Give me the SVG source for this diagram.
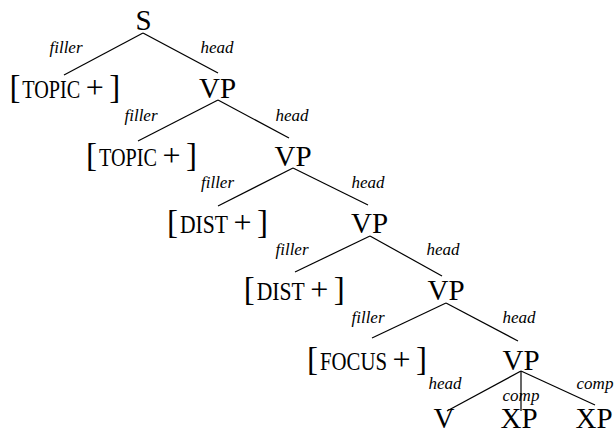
<svg xmlns="http://www.w3.org/2000/svg" width="614" height="436" viewBox="0 0 614 436">
<style>
text{font-family:"Liberation Serif","Times New Roman",serif;fill:#000}
.n{font-size:29px;text-anchor:middle}
.b{font-size:33px}
.p{font-size:32px}
.w{font-size:25px}
.l{font-size:17px;font-style:italic;text-anchor:middle}
.e line{stroke:#000;stroke-width:1.2}
</style>
<rect width="614" height="436" fill="#fff"/>
<g class="e" id="connectors">
<line x1="143" y1="33" x2="64" y2="75"/>
<line x1="143" y1="33" x2="218" y2="73"/>
<line x1="218" y1="100" x2="138" y2="141"/>
<line x1="218" y1="100" x2="289" y2="138"/>
<line x1="293" y1="168" x2="218" y2="206"/>
<line x1="293" y1="168" x2="368" y2="205"/>
<line x1="370" y1="236" x2="295" y2="272"/>
<line x1="370" y1="236" x2="442" y2="276"/>
<line x1="446" y1="303" x2="372" y2="338"/>
<line x1="446" y1="303" x2="518" y2="341"/>
<line x1="521" y1="371" x2="447" y2="411"/>
<line x1="521" y1="371" x2="521" y2="411"/>
<line x1="521" y1="371" x2="595" y2="405"/>
<text class="l" x="66" y="53">filler</text>
<text class="l" x="217" y="53">head</text>
<text class="l" x="141" y="120.5">filler</text>
<text class="l" x="292" y="120.5">head</text>
<text class="l" x="217.5" y="187.5">filler</text>
<text class="l" x="368" y="187.5">head</text>
<text class="l" x="292" y="255">filler</text>
<text class="l" x="443" y="255">head</text>
<text class="l" x="368" y="323">filler</text>
<text class="l" x="519" y="323">head</text>
<text class="l" x="445" y="389">head</text>
<text class="l" x="521" y="401">comp</text>
<text class="l" x="595" y="389">comp</text>
</g>
<g id="S"><text class="n" x="143.5" y="30">S</text></g>
<g id="VP1"><text class="n" x="217.5" y="98">VP</text></g>
<g id="TOPIC1"><text y="98"><tspan class="b" x="9.4">[</tspan><tspan class="w" x="22.3" textLength="58" lengthAdjust="spacingAndGlyphs">TOPIC</tspan><tspan class="p" x="85.8">+</tspan><tspan class="b" x="109.3">]</tspan></text></g>
<g id="VP2"><text class="n" x="293" y="165.5">VP</text></g>
<g id="TOPIC2"><text y="165.5"><tspan class="b" x="86.1">[</tspan><tspan class="w" x="99" textLength="58" lengthAdjust="spacingAndGlyphs">TOPIC</tspan><tspan class="p" x="162.5">+</tspan><tspan class="b" x="186">]</tspan></text></g>
<g id="VP3"><text class="n" x="369.5" y="232.5">VP</text></g>
<g id="DIST1"><text y="232.5"><tspan class="b" x="167.1">[</tspan><tspan class="w" x="180" textLength="48" lengthAdjust="spacingAndGlyphs">DIST</tspan><tspan class="p" x="233.5">+</tspan><tspan class="b" x="257">]</tspan></text></g>
<g id="VP4"><text class="n" x="446" y="300">VP</text></g>
<g id="DIST2"><text y="300"><tspan class="b" x="243.8">[</tspan><tspan class="w" x="256.7" textLength="48" lengthAdjust="spacingAndGlyphs">DIST</tspan><tspan class="p" x="310.2">+</tspan><tspan class="b" x="333.7">]</tspan></text></g>
<g id="VP5"><text class="n" x="521" y="370">VP</text></g>
<g id="FOCUS"><text y="370"><tspan class="b" x="307.1">[</tspan><tspan class="w" x="320" textLength="67" lengthAdjust="spacingAndGlyphs">FOCUS</tspan><tspan class="p" x="392.5">+</tspan><tspan class="b" x="416">]</tspan></text></g>
<g id="V"><text class="n" x="444" y="428">V</text></g>
<g id="XP1"><text class="n" x="519" y="428">XP</text></g>
<g id="XP2"><text class="n" x="594" y="428">XP</text></g>
</svg>
